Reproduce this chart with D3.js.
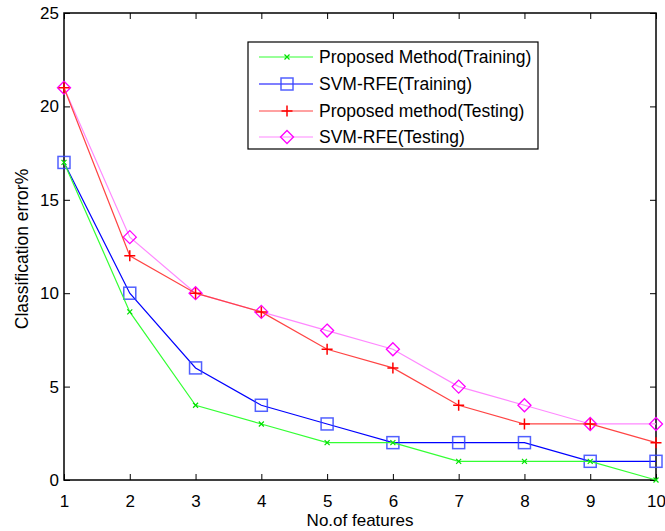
<!DOCTYPE html>
<meta charset="utf-8">
<body style="margin:0;background:#fff">
<script src="https://d3js.org/d3.v7.min.js"></script>
<div id="chart"></div>
<script>
// data
var features = [1, 2, 3, 4, 5, 6, 7, 8, 9, 10];
var yTicks = [0, 5, 10, 15, 20, 25];
var seriesNames = ["Proposed Method(Training)", "SVM-RFE(Training)", "Proposed method(Testing)", "SVM-RFE(Testing)"];
var proposedTrain = [17, 9, 4, 3, 2, 2, 1, 1, 1, 0];
var svmTrain = [17, 10, 6, 4, 3, 2, 2, 2, 1, 1];
var proposedTest = [21, 12, 10, 9, 7, 6, 4, 3, 3, 2];
var svmTest = [21, 13, 10, 9, 8, 7, 5, 4, 3, 3];

var series = [
  {name: seriesNames[0], values: proposedTrain, line: "#33ff33", mark: "#00e000", sym: "x"},
  {name: seriesNames[1], values: svmTrain, line: "#0000ff", mark: "#3344ff", sym: "square"},
  {name: seriesNames[2], values: proposedTest, line: "#ff4444", mark: "#ff0000", sym: "plus"},
  {name: seriesNames[3], values: svmTest, line: "#ff88ff", mark: "#ff00ff", sym: "diamond"}
];

var W = 665, H = 531;
var margin = {top: 13, right: 9, bottom: 51, left: 64},
    width = W - margin.left - margin.right,
    height = H - margin.top - margin.bottom;

var svg = d3.select("#chart").append("svg")
    .attr("width", W).attr("height", H)
    .style("font-family", "Arial, 'Liberation Sans', sans-serif");
var g = svg.append("g")
    .attr("transform", "translate(" + margin.left + "," + margin.top + ")");

var x = d3.scaleLinear().domain([1, 10]).range([0, width]);
var y = d3.scaleLinear().domain([0, 25]).range([height, 0]);

// axes with inward ticks, MATLAB style box
g.append("g")
    .attr("transform", "translate(0," + height + ")")
    .call(d3.axisBottom(x).tickValues(features).tickSize(-6).tickPadding(15).tickFormat(d3.format("d")))
    .call(function(a) { a.select(".domain").remove(); });
g.append("g")
    .call(d3.axisTop(x).tickValues(features).tickSize(-6).tickFormat(""))
    .call(function(a) { a.select(".domain").remove(); });
g.append("g")
    .call(d3.axisLeft(y).tickValues(yTicks).tickSize(-6).tickPadding(5))
    .call(function(a) { a.select(".domain").remove(); });
g.append("g")
    .attr("transform", "translate(" + width + ",0)")
    .call(d3.axisRight(y).tickValues(yTicks).tickSize(-6).tickFormat(""))
    .call(function(a) { a.select(".domain").remove(); });

g.selectAll(".tick line").attr("stroke", "#000").attr("stroke-width", 1);
g.selectAll(".tick text").style("font-size", "17px").attr("fill", "#000");

g.append("rect")
    .attr("width", width).attr("height", height)
    .attr("fill", "none").attr("stroke", "#000").attr("stroke-width", 1.5);

// lines
var line = d3.line()
    .x(function(d, i) { return x(features[i]); })
    .y(function(d) { return y(d); });

function drawMarker(sel, s, px, py) {
  var m = sel.append("g").attr("transform", "translate(" + px + "," + py + ")")
      .attr("fill", "none").attr("stroke", s.mark).attr("stroke-width", 1.2);
  if (s.sym === "x") {
    m.append("path").attr("d", "M-2.5,-2.5L2.5,2.5M-2.5,2.5L2.5,-2.5");
  } else if (s.sym === "square") {
    m.append("rect").attr("x", -6).attr("y", -6).attr("width", 12).attr("height", 12)
        .attr("stroke-width", 1.5).attr("stroke-opacity", 0.85);
  } else if (s.sym === "plus") {
    m.append("path").attr("d", "M-5.5,0L5.5,0M0,-5.5L0,5.5").attr("stroke-width", 1.5);
  } else {
    m.append("path").attr("d", "M0,-6.5L6.5,0L0,6.5L-6.5,0Z").attr("stroke-width", 1.3);
  }
}

// draw in reverse so training lines sit on top
series.slice().reverse().forEach(function(s) {
  g.append("path")
      .datum(s.values)
      .attr("d", line)
      .attr("fill", "none")
      .attr("stroke", s.line)
      .attr("stroke-width", 1.2);
  s.values.forEach(function(v, i) {
    drawMarker(g, s, x(features[i]), y(v));
  });
});

// axis labels
svg.append("text")
    .attr("x", margin.left + width / 2)
    .attr("y", 526)
    .attr("text-anchor", "middle")
    .style("font-size", "17px")
    .text("No.of features");
svg.append("text")
    .attr("transform", "translate(28,249) rotate(-90)")
    .attr("text-anchor", "middle")
    .style("font-size", "17.5px")
    .text("Classification error%");

// legend
var leg = svg.append("g").attr("transform", "translate(248,42)");
leg.append("rect")
    .attr("width", 290).attr("height", 107)
    .attr("fill", "#fff").attr("stroke", "#000").attr("stroke-width", 1.2);
var rowY = [15, 42, 69, 95];
series.forEach(function(s, i) {
  leg.append("line")
      .attr("x1", 11).attr("x2", 65)
      .attr("y1", rowY[i]).attr("y2", rowY[i])
      .attr("stroke", s.line).attr("stroke-width", 1.2);
  drawMarker(leg, s, 39, rowY[i]);
  leg.append("text")
      .attr("x", 71).attr("y", rowY[i] + 6)
      .style("font-size", "17.5px")
      .text(s.name);
});
</script>
</body>
